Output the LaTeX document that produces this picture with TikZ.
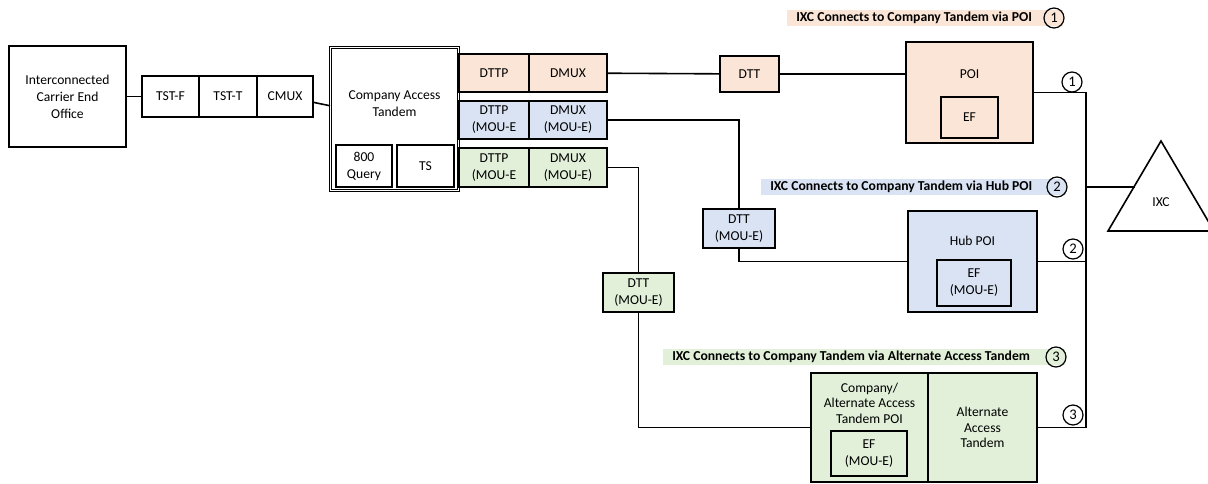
\documentclass[tikz,border=0pt]{standalone}
\usepackage{fontspec}
\setmainfont{Carlito}
\usepackage{xcolor}
\definecolor{poiorange}{HTML}{FBE5D6}
\definecolor{hubblue}{HTML}{DAE3F3}
\definecolor{altgreen}{HTML}{E2F0D9}
\usetikzlibrary{positioning,calc,fit,backgrounds}

\tikzset{
  unit/.style 2 args={draw, line width=1.3pt, align=center, inner sep=0pt,
    minimum width=#1*0.75pt, minimum height=#2*0.75pt},
  wire/.style={line width=1.2pt},
  num/.style={draw, circle, line width=0.9pt, minimum size=15pt, inner sep=0pt, font=\fontsize{11}{12}\selectfont},
  lbl/.style={font=\fontsize{10.25}{12}\selectfont\bfseries, anchor=west, inner sep=0pt, text height=7.5pt, text depth=2.25pt},
  band/.style={inner xsep=6.75pt, inner ysep=0.75pt},
  tight/.style={align=center, font=\fontsize{10.2}{11.6}\selectfont},
}

\begin{document}
\begin{tikzpicture}[x=0.75pt, y=-0.75pt, font=\fontsize{10.2}{12.75}\selectfont]
			\useasboundingbox (0,0) rectangle (1208,483);
			% end office and its chain
			\node[unit={117}{101}] (ceo) at (67.5,96.5) {Interconnected\\Carrier End\\Office};
			\node[unit={57}{41}] (tstf) at (170.5,96.5) {TST-F};
			\node[unit={58}{41}] (tstt) at (228,96.5) {TST-T};
			\node[unit={56}{41}] (cmux) at (285,96.5) {CMUX};
			% access tandem
			\node[unit={128}{143}, double, double distance=0.6pt, line width=0.7pt] (cat) at (394.5,119) {};
			\node[align=center] (catname) at (394.5,104) {Company Access\\Tandem};
			\node[unit={56}{42}] (q800) at (364,166) {800\\Query};
			\node[unit={57}{42}] (ts) at (425.5,166) {TS};
			% trunk ports
			\node[unit={70}{38}, fill=poiorange] (dttpa) at (494,73) {DTTP};
			\node[unit={78}{38}, fill=poiorange] (dmuxa) at (568,73) {DMUX};
			\node[unit={70}{38}, fill=hubblue] (dttpb) at (494,120) {DTTP\\(MOU-E};
			\node[unit={78}{38}, fill=hubblue] (dmuxb) at (568,120) {DMUX\\(MOU-E)};
			\node[unit={70}{39}, fill=altgreen] (dttpc) at (494,167.5) {DTTP\\(MOU-E};
			\node[unit={78}{39}, fill=altgreen] (dmuxc) at (568,167.5) {DMUX\\(MOU-E)};
			% transport
			\node[unit={59}{36}, fill=poiorange] (dtta) at (749.5,74) {DTT};
			\node[unit={72}{39}, fill=hubblue] (dttb) at (739,228.5) {DTT\\(MOU-E)};
			\node[unit={71}{39}, fill=altgreen] (dttc) at (638.5,292.5) {DTT\\(MOU-E)};
			% points of interconnection
			\node[unit={127}{101}, fill=poiorange] (poi) at (969.5,92.5) {};
			\node (poiname) at (969.5,74) {POI};
			\node[unit={57}{41}] (efa) at (969.5,117.5) {EF};
			\node[unit={129}{101}, fill=hubblue] (hub) at (972.5,261.5) {};
			\node (hubname) at (972.5,241) {Hub POI};
			\node[unit={74}{46}] (efb) at (974,283) {EF\\(MOU-E)};
			\node[unit={117}{109}, fill=altgreen] (altpoi) at (869.5,427.5) {};
			\node[tight] (altpoiname) at (869.5,403) {Company/\\Alternate Access\\Tandem POI};
			\node[unit={76}{45}] (efc) at (869,453.5) {EF\\(MOU-E)};
			\node[unit={109}{109}, fill=altgreen, tight] (alttan) at (982.5,427.5) {Alternate\\Access\\Tandem};
			% IXC
			\draw[line width=1.2pt] (1108,231) -- (1161,141) -- (1214,231) -- cycle;
			\node (ixc) at (1161,202) {IXC};
			\coordinate (ixcin) at (1135,187);
			\coordinate (bus) at (1086,0);
			% wires
			\draw[wire] (ceo) -- (tstf);
			\draw[wire] (cmux) -- (cat);
			\draw[wire] (dmuxa) -- (dtta);
			\draw[wire] (dtta) -- (dtta -| poi.west);
			\draw[wire] (dmuxb) -| (dttb);
			\draw[wire] (dttb) |- (hub);
			\draw[wire] (dmuxc) -| (dttc);
			\draw[wire] (dttc) |- (altpoi);
			\draw[wire] (poi.east) -- (poi.east -| bus) -- (alttan.east -| bus) -- (alttan.east);
			\draw[wire] (hub) -- (hub -| bus);
			\draw[wire] (ixcin -| bus) -- (ixcin);
			\node[num] (m1) at (1072,82) {1};
			\node[num] (m2) at (1073,249) {2};
			\node[num] (m3) at (1073,415) {3};
			% legend
			\node[lbl] (say1) at (796,18) {IXC Connects to Company Tandem via POI};
			\node[num] (k1) at (1054,18) {1};
			\node[lbl] (say2) at (770,187) {IXC Connects to Company Tandem via Hub POI};
			\node[num] (k2) at (1057,187) {2};
			\node[lbl] (say3) at (672,357) {IXC Connects to Company Tandem via Alternate Access Tandem};
			\node[num] (k3) at (1056,357) {3};
			\begin{scope}[on background layer]
				\node[band, fill=poiorange, fit=(say1)(k1.center)] {};
				\node[band, fill=hubblue, fit=(say2)(k2.center)] {};
				\node[band, fill=altgreen, fit=(say3)(k3.center)] {};
			\end{scope}
		\end{tikzpicture}
\end{document}
